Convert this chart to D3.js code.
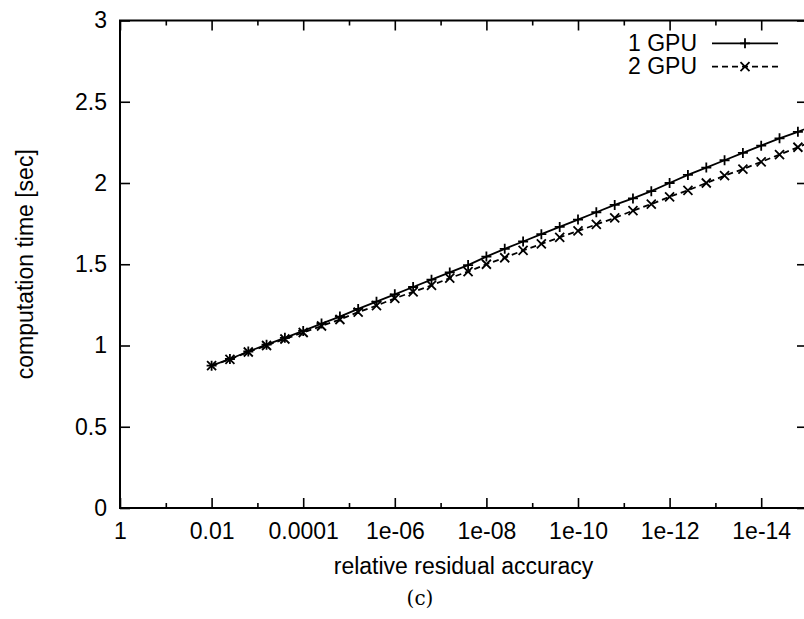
<!DOCTYPE html>
<html>
<head>
<meta charset="utf-8">
<script src="https://cdn.jsdelivr.net/npm/d3@7"></script>
<style>
  body { margin: 0; background: #fff; }
  svg { display: block; font-family: "Liberation Sans", Arial, sans-serif; }
</style>
</head>
<body>
<svg id="chart" width="804" height="619"></svg>
<script>
// relative residual accuracy (x) of each measured point
const accuracy = [
  1e-2, 3.98e-3, 1.58e-3, 6.31e-4, 2.51e-4, 1e-4, 3.98e-5, 1.58e-5, 6.31e-6, 2.51e-6,
  1e-6, 3.98e-7, 1.58e-7, 6.31e-8, 2.51e-8, 1e-8, 3.98e-9, 1.58e-9, 6.31e-10, 2.51e-10,
  1e-10, 3.98e-11, 1.58e-11, 6.31e-12, 2.51e-12, 1e-12, 3.98e-13, 1.58e-13, 6.31e-14, 2.51e-14,
  1e-14, 3.98e-15, 1.58e-15, 6.31e-16,
];
const gpu1 = [
  0.876, 0.917, 0.963, 1.005, 1.047, 1.09, 1.135, 1.178, 1.225, 1.27,
  1.315, 1.36, 1.405, 1.45, 1.495, 1.547, 1.595, 1.64, 1.685, 1.73,
  1.775, 1.82, 1.865, 1.905, 1.95, 2.0, 2.05, 2.095, 2.14, 2.185,
  2.23, 2.275, 2.315, 2.36,
];
const gpu2 = [
  0.876, 0.915, 0.96, 1.0, 1.04, 1.08, 1.12, 1.16, 1.205, 1.245,
  1.29, 1.33, 1.37, 1.415, 1.455, 1.5, 1.54, 1.585, 1.625, 1.665,
  1.705, 1.745, 1.785, 1.83, 1.87, 1.915, 1.955, 2.0, 2.045, 2.085,
  2.13, 2.175, 2.22, 2.265,
];
const xMajorTicks = [1, 1e-2, 1e-4, 1e-6, 1e-8, 1e-10, 1e-12, 1e-14];
const xTickLabels = ["1", "0.01", "0.0001", "1e-06", "1e-08", "1e-10", "1e-12", "1e-14"];
const xMinorTicks = [1e-1, 1e-3, 1e-5, 1e-7, 1e-9, 1e-11, 1e-13, 1e-15];
const yTicks = [0, 0.5, 1, 1.5, 2, 2.5, 3];
const seriesNames = ["1 GPU", "2 GPU"];

const svg = d3.select("#chart");
const plotLeft = 120, plotRight = 807, plotTop = 20.5, plotBottom = 508;
const fontSize = "23px";

const x = d3.scaleLog().domain([1, 1e-15]).range([plotLeft, plotRight]);
const y = d3.scaleLinear().domain([0, 3]).range([plotBottom, plotTop]);

svg.append("defs").append("clipPath").attr("id", "plot-clip")
  .append("rect")
  .attr("x", plotLeft).attr("y", plotTop)
  .attr("width", plotRight - plotLeft).attr("height", plotBottom - plotTop);

const styleAxis = (g) => {
  g.select(".domain").remove();
  g.selectAll("line").attr("stroke", "#000").attr("stroke-width", 1.6);
  g.selectAll("text").attr("fill", "#000").style("font-size", fontSize);
};

// bottom axis with labels
svg.append("g")
  .attr("transform", `translate(0,${plotBottom})`)
  .call(d3.axisBottom(x).tickValues(xMajorTicks)
    .tickFormat((d, i) => xTickLabels[i]).tickSize(-10).tickPadding(15))
  .call(styleAxis);
svg.append("g")
  .attr("transform", `translate(0,${plotBottom})`)
  .call(d3.axisBottom(x).tickValues(xMinorTicks).tickFormat("").tickSize(-5))
  .call(styleAxis);
// mirrored top ticks
svg.append("g")
  .attr("transform", `translate(0,${plotTop})`)
  .call(d3.axisTop(x).tickValues(xMajorTicks).tickFormat("").tickSize(-10))
  .call(styleAxis);
svg.append("g")
  .attr("transform", `translate(0,${plotTop})`)
  .call(d3.axisTop(x).tickValues(xMinorTicks).tickFormat("").tickSize(-5))
  .call(styleAxis);

// left axis with labels, mirrored right ticks
svg.append("g")
  .attr("transform", `translate(${plotLeft},0)`)
  .call(d3.axisLeft(y).tickValues(yTicks).tickFormat(d3.format("")).tickSize(-10).tickPadding(13))
  .call(styleAxis);
svg.append("g")
  .attr("transform", `translate(${plotRight},0)`)
  .call(d3.axisRight(y).tickValues(yTicks).tickFormat("").tickSize(-10))
  .call(styleAxis);

// frame
svg.append("rect")
  .attr("x", plotLeft).attr("y", plotTop)
  .attr("width", plotRight - plotLeft).attr("height", plotBottom - plotTop)
  .attr("fill", "none").attr("stroke", "#000").attr("stroke-width", 2);

const plusPath = (s) => `M${-s},0H${s}M0,${-s}V${s}`;
const crossPath = (s) => `M${-s},${-s}L${s},${s}M${-s},${s}L${s},${-s}`;

const series = [
  { name: seriesNames[0], values: gpu1, dash: null, marker: plusPath(5) },
  { name: seriesNames[1], values: gpu2, dash: "6,4", marker: crossPath(4.5) },
];

const plot = svg.append("g").attr("clip-path", "url(#plot-clip)");
const line = d3.line().x((d) => x(d[0])).y((d) => y(d[1]));

series.forEach((s) => {
  const pts = accuracy.map((a, i) => [a, s.values[i]]);
  plot.append("path")
    .datum(pts)
    .attr("d", line)
    .attr("fill", "none")
    .attr("stroke", "#000")
    .attr("stroke-width", 1.8)
    .attr("stroke-dasharray", s.dash);
  plot.selectAll(null)
    .data(pts)
    .join("path")
    .attr("transform", (d) => `translate(${x(d[0])},${y(d[1])})`)
    .attr("d", s.marker)
    .attr("stroke", "#000")
    .attr("stroke-width", 1.8)
    .attr("fill", "none");
});

// legend
const legend = svg.append("g");
series.forEach((s, i) => {
  const ly = 43.3 + i * 23.4;
  legend.append("text")
    .attr("x", 697).attr("y", ly + 7.5)
    .attr("text-anchor", "end")
    .style("font-size", fontSize)
    .text(s.name);
  legend.append("line")
    .attr("x1", 712).attr("x2", 778).attr("y1", ly).attr("y2", ly)
    .attr("stroke", "#000").attr("stroke-width", 1.8)
    .attr("stroke-dasharray", s.dash);
  legend.append("path")
    .attr("transform", `translate(745,${ly})`)
    .attr("d", s.marker)
    .attr("stroke", "#000").attr("stroke-width", 1.8);
});

// axis titles
svg.append("text")
  .attr("x", (plotLeft + plotRight) / 2).attr("y", 574)
  .attr("text-anchor", "middle")
  .style("font-size", fontSize)
  .text("relative residual accuracy");

svg.append("text")
  .attr("transform", `translate(33,${(plotTop + plotBottom) / 2}) rotate(-90)`)
  .attr("text-anchor", "middle")
  .style("font-size", fontSize)
  .text("computation time [sec]");

svg.append("text")
  .attr("x", 420).attr("y", 605)
  .attr("text-anchor", "middle")
  .style("font-family", "'DejaVu Serif', 'Liberation Serif', serif")
  .style("font-size", "20px")
  .text("(c)");
</script>
</body>
</html>
